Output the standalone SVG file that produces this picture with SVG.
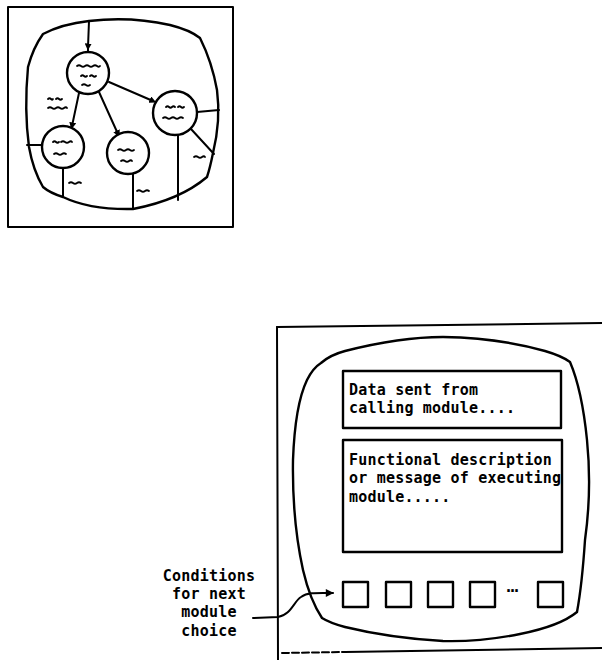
<svg xmlns="http://www.w3.org/2000/svg" width="602" height="660" viewBox="0 0 602 660">
<style>
.ln{fill:none;stroke:#000;stroke-width:2;stroke-linecap:round;stroke-linejoin:round}
.thk{fill:none;stroke:#000;stroke-width:2.4;stroke-linejoin:round}
.nd{fill:#fff;stroke:#000;stroke-width:2.4}
.sc{fill:none;stroke:#000;stroke-width:1.8;stroke-linecap:round}
.tx{font-family:"DejaVu Sans Mono","Liberation Mono",monospace;font-weight:bold;font-size:15px;letter-spacing:0.2px;fill:#000}
</style>
<defs>
<marker id="ah" viewBox="0 0 10 10" refX="9" refY="5" markerWidth="9" markerHeight="8" markerUnits="userSpaceOnUse" orient="auto"><path d="M0,0 L10,5 L0,10 Z" fill="#000"/></marker>
<marker id="sa" viewBox="0 0 10 10" refX="5" refY="5" markerWidth="7" markerHeight="7" markerUnits="userSpaceOnUse" orient="auto"><path d="M0,0 L10,5 L0,10 Z" fill="#000"/></marker>
</defs>

<!-- small overview diagram -->
<g id="overview">
<rect x="8" y="7" width="225" height="220" class="ln"/>
<path class="thk" d="M43,34 Q62,24 89,21 Q130,16 170,25 Q190,30 200,38 Q212,62 217,90 Q221,120 213,153 Q210,168 207,177 Q180,200 133,209 Q90,210 63,197 Q50,193 43,187 Q33,170 29,147 Q24,110 28,67 Q33,48 43,34 Z"/>
</g>

<g id="connectors-overview">
<path class="ln" d="M89,21 L88,47" marker-end="url(#sa)"/>
<path class="ln" d="M88,46 L88,51"/>
<path class="ln" d="M109,82 L153,101" marker-end="url(#sa)"/>
<path class="ln" d="M79,93 L72,126" marker-end="url(#sa)"/>
<path class="ln" d="M99,92 L118,134" marker-end="url(#sa)"/>
<path class="ln" d="M27,145 L42,145"/>
<path class="ln" d="M63,168 L63,197"/>
<path class="ln" d="M133,173 L133,209"/>
<path class="ln" d="M197,112 L219,110"/>
<path class="ln" d="M178,135 L178,200"/>
<path class="ln" d="M191,129 L214,154"/>
</g>

<g id="node-top">
<circle cx="88" cy="73" r="21" class="nd"/>
<path class="sc" d="M77,66 q2,-1.5 4,0 t4,0 t4,0 t4,0 t4,0 t3,0"/>
<path class="sc" d="M81,76 q1.5,-1.5 3,0 t3,0 M90,76 q1.5,-1.5 3,0 t3,0"/>
<path class="sc" d="M82,85 q2,-1.5 4,0 t4,0"/>
</g>
<g id="node-left">
<circle cx="63" cy="147" r="21" class="nd"/>
<path class="sc" d="M53,142 q1.5,-1.5 3,0 t3,0 M61,142 q2,-1.5 4,0 t4,0 t3,0"/>
<path class="sc" d="M54,154 q2,-1.5 4,0 t4,0 t4,0"/>
</g>
<g id="node-mid">
<circle cx="128" cy="153" r="21" class="nd"/>
<path class="sc" d="M118,150 q2,-1.5 4,0 t4,0 t4,0 t4,0"/>
<path class="sc" d="M121,161 q2,-1.5 4,0 t4,0 t3,0"/>
</g>
<g id="node-right">
<circle cx="175" cy="113" r="22" class="nd"/>
<path class="sc" d="M166,107 q1.5,-1.5 3,0 t3,0 t3,0 M178,107 q1.5,-1.5 3,0 t3,0"/>
<path class="sc" d="M163,118 q2,-1.5 4,0 t4,0 t4,0 t4,0 t4,0"/>
</g>
<g id="scribbles">
<path class="sc" d="M48,99 q1.5,-1.5 3,0 t2,0 M56,99 q1.5,-1.5 3,0 t3,0"/>
<path class="sc" d="M48,108 q2,-1.5 4,0 t4,0 t4,0 t4,0 t3,0"/>
<path class="sc" d="M69,183 q2,-1.5 4,0 t4,0 t4,0"/>
<path class="sc" d="M137,191 q2,-1.5 4,0 t4,0 t4,0"/>
<path class="sc" d="M194,157 q2,-1.5 4,0 t4,0 t3,0"/>
</g>

<!-- detailed screen -->
<g id="frame">
<path class="ln" d="M277,327 L602,323"/>
<path class="ln" d="M277,327 L278,660"/>
<path class="ln" d="M282,653 L345,652" stroke-dasharray="7 3"/>
<path class="ln" d="M345,652 L602,648"/>
</g>
<g id="screen">
<path class="thk" d="M321,363 Q330,355 345,351 Q400,337 443,337 Q500,338 545,351 Q562,356 570,362 Q582,390 587,440 Q592,490 585,540 Q582,585 577,612 Q560,626 520,634 Q480,642 443,641 Q390,638 345,627 Q330,623 322,618 Q310,600 303,570 Q292,520 293,460 Q295,405 307,380 Q313,368 321,363 Z"/>
</g>
<g id="box-data">
<rect x="343" y="371" width="218" height="57" class="thk"/>
<text class="tx" x="349" y="395">Data sent from</text>
<text class="tx" x="349" y="413">calling module....</text>
</g>
<g id="box-function">
<rect x="343" y="440" width="219" height="112" class="thk"/>
<text class="tx" x="349" y="465">Functional description</text>
<text class="tx" x="349" y="483">or message of executing</text>
<text class="tx" x="349" y="502">module.....</text>
</g>
<g id="choices">
<rect x="343" y="582" width="25" height="25" class="thk"/>
<rect x="386" y="582" width="25" height="25" class="thk"/>
<rect x="428" y="582" width="25" height="25" class="thk"/>
<rect x="470" y="582" width="25" height="25" class="thk"/>
<text class="tx" x="504" y="592" style="letter-spacing:-5px">...</text>
<rect x="538" y="582" width="25" height="25" class="thk"/>
</g>
<g id="label-conditions">
<text class="tx" text-anchor="middle" x="209" y="581">Conditions</text>
<text class="tx" text-anchor="middle" x="209" y="599">for next</text>
<text class="tx" text-anchor="middle" x="209" y="617">module</text>
<text class="tx" text-anchor="middle" x="209" y="636">choice</text>
</g>
<g id="connectors">
<path class="ln" d="M253,618 L278,617 C291,615 294,601 301,597 C308,592 318,593 333,593" marker-end="url(#ah)"/>
</g>
</svg>
